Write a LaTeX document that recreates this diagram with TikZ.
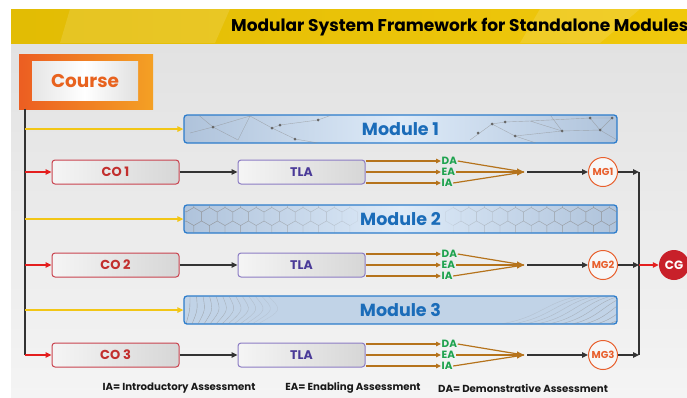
\documentclass[tikz,border=0pt]{standalone}
\usepackage{fontspec}
\setmainfont{Poppins}
\usetikzlibrary{arrows.meta,calc}
\definecolor{bgtop}{HTML}{E2E2E2}
\definecolor{bgbot}{HTML}{F4F4F4}
\definecolor{ylwA}{HTML}{E2BC04}
\definecolor{ylwB}{HTML}{F0C80C}
\definecolor{orgA}{HTML}{EC5E22}
\definecolor{orgB}{HTML}{F4A024}
\definecolor{orgT}{HTML}{E8621E}
\definecolor{spine}{HTML}{333333}
\definecolor{ylarr}{HTML}{F2C616}
\definecolor{modB}{HTML}{2C7CCB}
\definecolor{modT}{HTML}{1B6CB9}
\definecolor{modS}{HTML}{AFC3DB}
\definecolor{modM}{HTML}{DDEAF8}
\definecolor{coB}{HTML}{C9434F}
\definecolor{coT}{HTML}{C22F2E}
\definecolor{tlaB}{HTML}{8C7CC4}
\definecolor{tlaT}{HTML}{4A3A98}
\definecolor{brn}{HTML}{B5731C}
\definecolor{grn}{HTML}{1FA34F}
\definecolor{mgC}{HTML}{E8602E}
\definecolor{cgC}{HTML}{C8202A}
\definecolor{redA}{HTML}{E41E1E}
\begin{document}
\begin{tikzpicture}[x=1pt,y=-1pt,
  modbox/.style={draw=modB,line width=1.3pt,rounded corners=3pt,minimum width=433pt,minimum height=28pt,left color=modS,right color=modS,middle color=modM,inner sep=0pt},
  modtext/.style={text=modT,font=\bfseries\fontsize{17.5}{20}\selectfont},
  cobox/.style={draw=coB,line width=1pt,rounded corners=3pt,minimum width=127pt,minimum height=24pt,left color=white!96!black,right color=black!16,text=coT,font=\bfseries\fontsize{13}{14}\selectfont},
  tlabox/.style={draw=tlaB,line width=1pt,rounded corners=3pt,minimum width=127pt,minimum height=24pt,left color=white!96!black,right color=black!16,text=tlaT,font=\bfseries\fontsize{12.5}{14}\selectfont},
  lab/.style={text=grn,font=\bfseries\fontsize{10.5}{10}\selectfont,inner sep=0.5pt},
  brnline/.style={draw=brn,line width=1.2pt},
  brnarr/.style={brnline,-{Triangle[length=5pt,width=4.5pt]}},
  brnbig/.style={brnline,-{Triangle[length=7pt,width=7pt]}},
  blk/.style={draw=spine,line width=1.3pt,-{Triangle[length=6pt,width=5.5pt]}},
  ylw/.style={draw=ylarr,line width=1.3pt,-{Triangle[length=6pt,width=5.5pt]}},
  redarr/.style={draw=redA,line width=1.3pt,-{Triangle[length=6pt,width=5.5pt]}},
  mg/.style={circle,draw=mgC,line width=1pt,minimum size=29pt,inner sep=0pt,fill=white!97!black,text=mgC,font=\bfseries\fontsize{10}{10}\selectfont},
  cg/.style={circle,fill=cgC,minimum size=30pt,inner sep=0pt,text=white,font=\bfseries\fontsize{12}{12}\selectfont},
  legend/.style={text=black!90,font=\bfseries\fontsize{10.2}{12}\selectfont},
  pat/.style={draw=black!45,line width=0.4pt,opacity=0.6},
  dot/.style={fill=black!60}
]
\useasboundingbox (0,0) rectangle (687,397);
\clip (0,0) rectangle (687,397);
\fill[white] (0,0) rectangle (687,397);
\shade[top color=bgtop,bottom color=bgbot] (11,43) rectangle (687,397);
% title bar
\shade[left color=ylwA,right color=ylwB] (11,9) rectangle (687,43);
\fill[white,opacity=0.12] (70,9) -- (230,9) -- (215,43) -- (60,43) -- cycle;
\fill[white,opacity=0.12] (540,9) -- (640,9) -- (600,43) -- (520,43) -- cycle;
\node[anchor=west,inner sep=0pt,font=\bfseries\fontsize{17}{20}\selectfont] (title) at (231,27) {Modular System Framework for Standalone Modules};
% course
\node[minimum width=134pt,minimum height=55pt,left color=orgA,right color=orgB,inner sep=0pt] (courseouter) at (86,81.5) {};
\node[minimum width=106pt,minimum height=39pt,inner sep=0pt,left color=white!90!black,right color=white!88!black,middle color=white,text=orgT,font=\bfseries\fontsize{18.5}{20}\selectfont] (course) at (85,81) {Course};
% modules
\node[modbox] (m1) at (400.5,129) {};
\node[modbox] (m2) at (400.5,219) {};
\node[modbox,left color=modS!60!modM,right color=modS!60!modM] (m3) at (400.5,310) {};
\begin{scope}
\clip[rounded corners=3pt] (184.5,115.5) rectangle (616.5,142.5);
\draw[pat] (196,113)--(213,127)--(238,140) (213,127)--(250,116)--(272,128)--(280,125)--(318,120) (272,128)--(295,139)--(330,145) (238,140)--(250,116) (190,133)--(213,127) (318,120)--(340,112);
\draw[pat] (470,140)--(492,124)--(505,122)--(530,121)--(590,118)--(612,118) (492,124)--(515,136)--(548,147) (515,136)--(562,131)--(600,130)--(612,118) (530,121)--(562,131) (548,112)--(562,131) (590,118)--(600,130)--(617,140);
\foreach \p in {(196,114),(213,127),(272,128),(280,125),(295,139),(318,120),(478,133),(492,124),(505,122),(515,136),(562,131),(590,118),(600,130),(612,118)}
  \fill[dot] \p circle (1.5pt);
\end{scope}
\begin{scope}
\clip[rounded corners=3pt] (184.5,205.5) rectangle (616.5,232.5);
\foreach \i in {0,...,10} \foreach \j in {0,1,2,3} {
  \pgfmathsetmacro\cx{186+\i*15.6+mod(\j,2)*7.8}
  \pgfmathsetmacro\cy{203+\j*13.5}
  \draw[pat,opacity={0.55-0.04*\i}] (\cx,\cy) +(30:9) -- +(90:9) -- +(150:9) -- +(210:9) -- +(270:9) -- +(330:9) -- cycle;
}
\foreach \i in {0,...,10} \foreach \j in {0,1,2,3} {
  \pgfmathsetmacro\cx{617-\i*15.6-mod(\j,2)*7.8}
  \pgfmathsetmacro\cy{203+\j*13.5}
  \draw[pat,opacity={0.55-0.04*\i}] (\cx,\cy) +(30:9) -- +(90:9) -- +(150:9) -- +(210:9) -- +(270:9) -- +(330:9) -- cycle;
}
\end{scope}
\begin{scope}
\clip[rounded corners=3pt] (184.5,296.5) rectangle (616.5,323.5);
\foreach \k in {0,...,12} {
  \draw[pat,opacity={0.7-0.045*\k}] ({190+\k*6.5},296) .. controls ({190+\k*6.5+\k*1.2},310) .. ({186+\k*6},324);
}
\foreach \k in {0,...,9} {
  \draw[pat,opacity={0.25+0.05*\k}] ({500+\k*12},324) .. controls ({540+\k*10},318) and ({545+\k*10},302) .. ({580+\k*8},296);
}
\end{scope}
\node[modtext] (m1t) at (m1) {Module 1};
\node[modtext] (m2t) at (m2) {Module 2};
\node[modtext] (m3t) at (m3) {Module 3};
% spine
\coordinate (s0) at (25,108.5);
\coordinate (y1) at (25,129);
\coordinate (y2) at (25,219);
\coordinate (y3) at (25,310);
\draw[spine,line width=1.5pt] (s0) -- (25,355);
\draw[ylw] (y1) -- (m1.west);
\draw[ylw] (y2) -- (m2.west);
\draw[ylw] (y3) -- (m3.west);
% rows
\foreach \r/\y in {1/172,2/265,3/355} {
  \coordinate (sp\r) at (25,\y);
  \node[cobox] (co\r) at (115.5,\y) {CO \r};
  \node[tlabox] (tla\r) at (301.5,\y) {TLA};
  \draw[redarr] (sp\r) -- (co\r.west);
  \draw[blk] (co\r.east) -- (tla\r.west);
  \node[lab,anchor=west] (da\r) at (441,{\y-11}) {DA};
  \node[lab,anchor=west] (ea\r) at (441,\y) {EA};
  \node[lab,anchor=west] (ia\r) at (441,{\y+11}) {IA};
  \draw[brnarr] (tla\r.east |- da\r.west) -- (da\r.west);
  \draw[brnarr] (tla\r.east |- ea\r.west) -- (ea\r.west);
  \draw[brnarr] (tla\r.east |- ia\r.west) -- (ia\r.west);
  \coordinate (cv\r) at (524,\y);
  \draw[brnline] (da\r.east) -- (cv\r);
  \draw[brnline] (ia\r.east) -- (cv\r);
  \draw[brnbig] (ea\r.east) -- (cv\r);
  \node[mg] (mg\r) at (603,\y) {MG\r};
  \draw[blk] ([xshift=3pt]cv\r) -- (mg\r.west);
  \coordinate (j\r) at (639,\y);
  \draw[blk] (mg\r.east) -- (j\r);
}
\draw[spine,line width=1.5pt] (j1) -- (j3);
\node[cg] (cg) at (674,265) {CG};
\draw[redarr] (j2) -- (cg.west);
% legend
\node[legend] (lg1) at (179,388) {IA= Introductory Assessment};
\node[legend] (lg2) at (353,388) {EA= Enabling Assessment};
\node[legend] (lg3) at (523,388) {DA= Demonstrative Assessment};
\end{tikzpicture}
\end{document}
